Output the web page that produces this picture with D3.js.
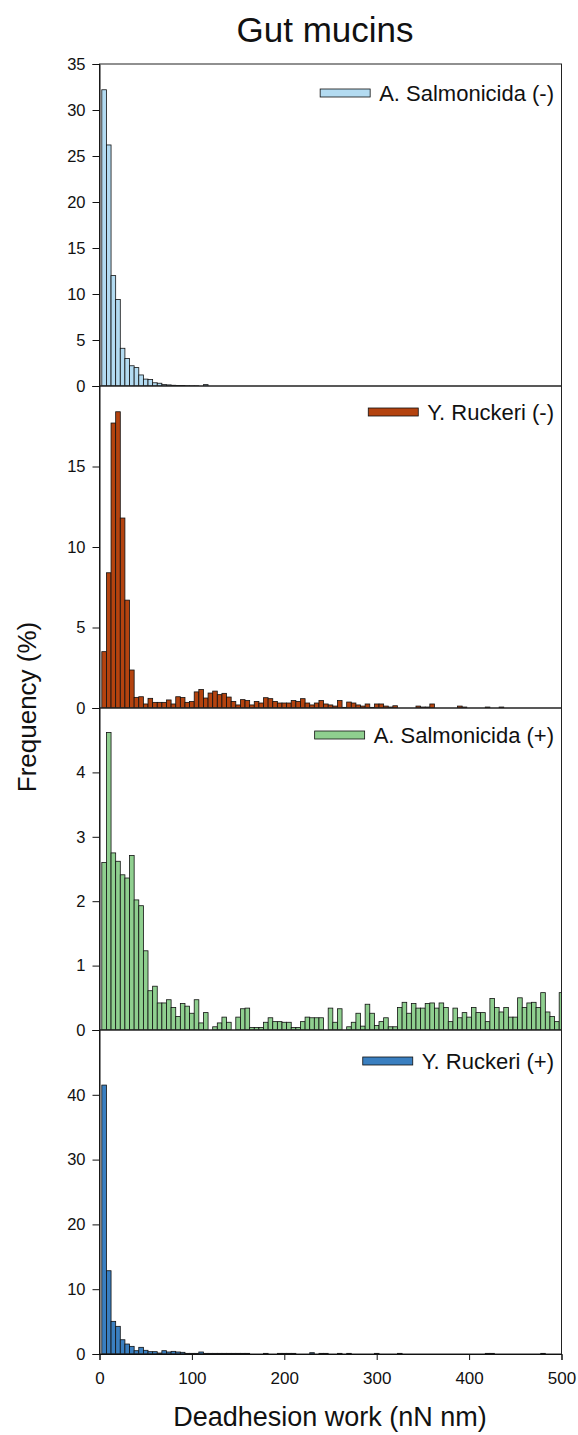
<!DOCTYPE html>
<html>
<head>
<meta charset="utf-8">
<script src="https://cdn.jsdelivr.net/npm/d3@7"></script>
<style>
  html, body { margin: 0; padding: 0; background: #fff; }
  svg { display: block; }
  text { font-family: "Liberation Sans", Arial, sans-serif; fill: #111; }
</style>
</head>
<body>
<svg id="chart" width="578" height="1435"></svg>
<script>
// ---------------- DATA ----------------
const binWidth = 5;               // nN nm
const binCount = 100;             // bins centred at 5, 10, ... 500
const xTicks = [0, 100, 200, 300, 400, 500];

const seriesNames = ["A. Salmonicida (-)", "Y. Ruckeri (-)", "A. Salmonicida (+)", "Y. Ruckeri (+)"];

const salmonicidaNeg = [
  32.2, 26.2, 12.0, 9.4, 4.1, 3.0, 2.2, 2.0, 1.2, 0.75,
  0.7, 0.35, 0.3, 0.15, 0.12, 0.08, 0.06, 0.05, 0.03, 0.02,
  0.02, 0, 0.15, 0, 0, 0, 0, 0, 0, 0,
  0, 0, 0, 0, 0, 0, 0, 0, 0, 0,
  0, 0, 0, 0, 0, 0, 0, 0, 0, 0,
  0, 0, 0, 0, 0, 0, 0, 0, 0, 0,
  0, 0, 0, 0, 0, 0, 0, 0, 0, 0,
  0, 0, 0, 0, 0, 0, 0, 0, 0, 0,
  0, 0, 0, 0, 0, 0, 0, 0, 0, 0,
  0, 0, 0, 0, 0, 0, 0, 0, 0, 0
];

const ruckeriNeg = [
  3.5, 8.4, 17.7, 18.4, 11.8, 6.7, 2.36, 0.66, 0.7, 0.25,
  0.6, 0.35, 0.35, 0.35, 0.5, 0.25, 0.7, 0.65, 0.35, 0.4,
  1.0, 1.15, 0.62, 0.93, 1.05, 0.83, 0.91, 0.68, 0.41, 0.19,
  0.52, 0.46, 0.19, 0.41, 0.31, 0.64, 0.58, 0.41, 0.31, 0.31,
  0.31, 0.46, 0.41, 0.58, 0.31, 0.19, 0.31, 0.46, 0.25, 0.19,
  0.12, 0.46, 0.04, 0.37, 0.31, 0.19, 0.12, 0.25, 0.04, 0.25,
  0.25, 0.12, 0.06, 0.14, 0, 0, 0, 0, 0.12, 0.06,
  0.06, 0.25, 0, 0, 0, 0, 0, 0.12, 0.06, 0,
  0, 0, 0, 0.06, 0, 0, 0.06, 0, 0, 0,
  0, 0, 0, 0, 0, 0, 0, 0, 0, 0
];

const salmonicidaPos = [
  2.60, 4.62, 2.75, 2.62, 2.41, 2.36, 2.71, 2.02, 1.93, 1.23,
  0.61, 0.68, 0.42, 0.42, 0.47, 0.35, 0.21, 0.41, 0.37, 0.26,
  0.47, 0.11, 0.27, 0, 0.05, 0.11, 0.20, 0.12, 0, 0.20,
  0.33, 0.34, 0.04, 0.04, 0.04, 0.12, 0.19, 0.13, 0.13, 0.12,
  0.12, 0.04, 0.04, 0.13, 0.20, 0.19, 0.19, 0.19, 0, 0.34,
  0.12, 0.33, 0, 0.05, 0.12, 0.26, 0.06, 0.40, 0.26, 0.07,
  0.13, 0.19, 0.05, 0.05, 0.35, 0.43, 0.26, 0.41, 0.34, 0.34,
  0.41, 0.42, 0.34, 0.42, 0.35, 0.13, 0.34, 0.19, 0.27, 0.20,
  0.35, 0.27, 0.27, 0.13, 0.49, 0.35, 0.28, 0.35, 0.20, 0.20,
  0.50, 0.35, 0.42, 0.43, 0.35, 0.58, 0.28, 0.21, 0.13, 0.58
];

const ruckeriPos = [
  41.5, 12.85, 5.04, 4.27, 2.2, 1.54, 1.18, 0.51, 1.03, 0.57,
  0.36, 0.36, 0.15, 0.51, 0.31, 0.41, 0.31, 0.26, 0.1, 0.1,
  0.1, 0.31, 0.1, 0.1, 0.1, 0.1, 0.1, 0.1, 0.1, 0.1,
  0.1, 0.1, 0, 0, 0, 0.1, 0, 0, 0.1, 0.1,
  0.1, 0.1, 0, 0, 0, 0.2, 0, 0.1, 0.1, 0,
  0, 0.1, 0, 0.1, 0, 0, 0, 0, 0, 0.1,
  0, 0, 0, 0, 0.1, 0, 0, 0, 0, 0,
  0, 0, 0, 0, 0, 0, 0, 0, 0, 0,
  0, 0, 0, 0.1, 0.1, 0, 0, 0, 0, 0,
  0, 0, 0, 0, 0, 0.1, 0, 0, 0, 0
];

const yMaxes = [35, 20, 5, 50];
const yTickSets = [
  [0, 5, 10, 15, 20, 25, 30, 35],
  [0, 5, 10, 15],
  [0, 1, 2, 3, 4],
  [0, 10, 20, 30, 40]
];
const colors = ["#b3dbf1", "#b4430f", "#8fcf8f", "#3a7fc0"];

// ---------------- LAYOUT ----------------
const svg = d3.select("#chart");
const left = 99.5, right = 561.5;
const panelTops = [64, 386, 708, 1030];
const panelBottoms = [386, 708, 1030, 1354];
const legendY = [93, 412, 735, 1061];

const x = d3.scaleLinear().domain([0, 500]).range([left, right]);
const allSeries = [salmonicidaNeg, ruckeriNeg, salmonicidaPos, ruckeriPos];
const binLefts = d3.range(binCount).map(i => (i + 0.5) * binWidth);

allSeries.forEach((vals, p) => {
  const y = d3.scaleLinear().domain([0, yMaxes[p]]).range([panelBottoms[p], panelTops[p]]);
  const g = svg.append("g");
  const clipId = "clip" + p;
  svg.append("clipPath").attr("id", clipId).append("rect")
    .attr("x", left).attr("y", panelTops[p] - 1)
    .attr("width", right - left).attr("height", panelBottoms[p] - panelTops[p] + 1);

  const data = vals.map((v, i) => ({ x0: binLefts[i], v })).filter(d => d.v > 0);
  g.append("g").attr("clip-path", `url(#${clipId})`)
    .selectAll("rect").data(data).join("rect")
    .attr("x", d => x(d.x0))
    .attr("width", x(binWidth) - x(0))
    .attr("y", d => y(d.v))
    .attr("height", d => y(0) - y(d.v))
    .attr("fill", colors[p])
    .attr("stroke", "#111")
    .attr("stroke-width", 0.8);

  // frame
  g.append("rect")
    .attr("x", left).attr("y", panelTops[p])
    .attr("width", right - left).attr("height", panelBottoms[p] - panelTops[p])
    .attr("fill", "none").attr("stroke", "#222").attr("stroke-width", 1);

  // y axis
  const yAxis = d3.axisLeft(y).tickValues(yTickSets[p]).tickSize(7).tickPadding(7).tickFormat(d3.format("d"));
  const ya = g.append("g").attr("transform", `translate(${left},0)`).call(yAxis);
  ya.select(".domain").attr("stroke", "#111");
  ya.selectAll(".tick line").attr("stroke", "#111");
  ya.selectAll(".tick text").attr("font-size", 16.5).attr("font-family", "Liberation Sans, Arial, sans-serif").attr("fill", "#111");

  // legend
  const lg = g.append("g");
  const t = lg.append("text").attr("x", 554).attr("y", legendY[p]).attr("dy", "0.36em")
    .attr("text-anchor", "end").attr("font-size", 22).text(seriesNames[p]);
  const tw = t.node().getComputedTextLength();
  const sx = 554 - tw - 9 - 50;
  lg.append("rect").attr("x", sx).attr("y", legendY[p] - 4).attr("width", 50).attr("height", 8)
    .attr("fill", colors[p]).attr("stroke", "#111").attr("stroke-width", 0.8);
});

// x axis at the bottom
const xAxis = d3.axisBottom(x).tickValues(xTicks).tickSize(6).tickPadding(12).tickFormat(d3.format("d"));
const xa = svg.append("g").attr("transform", `translate(0,${panelBottoms[3]})`).call(xAxis);
xa.select(".domain").attr("stroke", "#111");
xa.selectAll(".tick line").attr("stroke", "#111");
xa.selectAll(".tick text").attr("font-size", 17).attr("font-family", "Liberation Sans, Arial, sans-serif").attr("fill", "#111");

// titles
svg.append("text").attr("x", 325).attr("y", 42).attr("text-anchor", "middle")
  .attr("font-size", 35).text("Gut mucins");
svg.append("text").attr("x", 330).attr("y", 1426).attr("text-anchor", "middle")
  .attr("font-size", 27).text("Deadhesion work (nN nm)");
svg.append("text").attr("transform", "translate(36,707) rotate(-90)").attr("text-anchor", "middle")
  .attr("font-size", 26).text("Frequency (%)");
</script>
</body>
</html>
